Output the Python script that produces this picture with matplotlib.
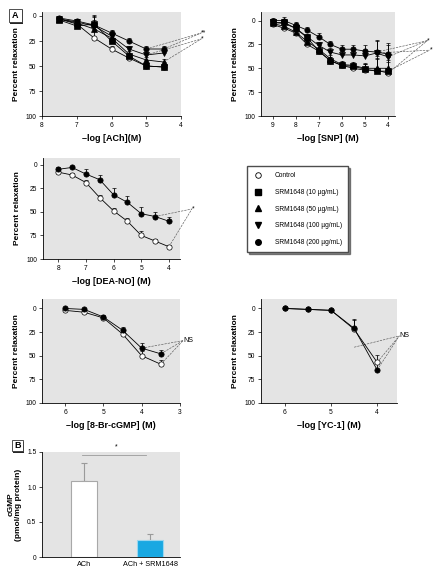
import numpy as np
import matplotlib
matplotlib.use('Agg')
import matplotlib.pyplot as plt
from matplotlib.lines import Line2D
from matplotlib.patches import Rectangle

plt.rcParams['font.family'] = ['Liberation Sans Narrow', 'Liberation Sans', 'DejaVu Sans']
plt.rcParams['font.size'] = 4.5
plt.rcParams['axes.linewidth'] = 0.6

# ---- data: ACh ----
ach_x = [7.5, 7, 6.5, 6, 5.5, 5, 4.5]
ach_ctrl = [3, 8, 22, 33, 42, 50, 51]
ach_10 = [4, 10, 8, 25, 40, 50, 51]
ach_50 = [3, 7, 13, 22, 38, 44, 46]
ach_100 = [3, 6, 10, 20, 33, 39, 37]
ach_200 = [2, 5, 9, 17, 25, 33, 33]
ach_err = [2, 2, 9, 3, 3, 3, 3]

# ---- data: SNP ----
snp_x = [9, 8.5, 8, 7.5, 7, 6.5, 6, 5.5, 5, 4.5, 4]
snp_ctrl = [4, 8, 13, 25, 32, 42, 47, 50, 52, 52, 55]
snp_10 = [2, 2, 8, 18, 32, 42, 47, 48, 51, 53, 53]
snp_50 = [3, 6, 12, 22, 30, 40, 46, 47, 50, 50, 50]
snp_100 = [2, 3, 8, 17, 26, 33, 36, 36, 37, 34, 38]
snp_200 = [0, 0, 5, 10, 17, 25, 30, 30, 32, 33, 35]
snp_err = [3, 4, 3, 3, 4, 4, 4, 4, 6, 13, 12]

# ---- data: DEA-NO ----
dea_x = [8, 7.5, 7, 6.5, 6, 5.5, 5, 4.5, 4]
dea_ctrl = [8, 11, 19, 35, 49, 60, 75, 81, 87]
dea_200 = [5, 3, 10, 16, 32, 40, 52, 55, 60]
dea_ctrl_err = [2, 2, 3, 3, 3, 3, 5, 2, 2]
dea_200_err = [2, 2, 5, 5, 7, 7, 7, 5, 4]

# ---- data: 8-Br-cGMP ----
br_x = [6, 5.5, 5, 4.5, 4, 3.5]
br_ctrl = [2, 4, 10, 27, 50, 59]
br_200 = [0, 1, 9, 23, 42, 48]
br_err = [1, 1, 2, 3, 5, 4]

# ---- data: YC-1 ----
yc_x = [6, 5.5, 5, 4.5, 4]
yc_ctrl = [0, 1, 2, 22, 57]
yc_200 = [0, 1, 2, 21, 65]
yc_err = [1, 1, 1, 10, 8]

# ---- data: cGMP ----
b_labels = ['ACh', 'ACh + SRM1648']
b_vals = [1.09, 0.25]
b_err = [0.26, 0.08]

W, H = 439, 573
fig = plt.figure(figsize=(W / 100, H / 100), dpi=100)
BG = '#e4e4e4'


def px_axes(l, t, r, b):
    return fig.add_axes([l / W, 1 - b / H, (r - l) / W, (b - t) / H])


def style(ax, xlim, xticks, ylim=(100, -6)):
    ax.set_facecolor(BG)
    ax.spines['top'].set_visible(False)
    ax.spines['right'].set_visible(False)
    ax.set_xlim(*xlim)
    ax.set_ylim(*ylim)
    ax.set_xticks(xticks)
    ax.set_xticklabels([str(t) for t in xticks])
    ax.set_yticks([0, 25, 50, 75, 100])
    ax.tick_params(length=2, width=0.5, labelsize=4.8, pad=2)
    ax.set_ylabel('Percent relaxation', fontsize=6, fontweight='bold', labelpad=4)


styles = {
    'ctrl': dict(marker='o', mfc='white', mec='black'),
    '10': dict(marker='s', mfc='black', mec='black'),
    '50': dict(marker='^', mfc='black', mec='black'),
    '100': dict(marker='v', mfc='black', mec='black'),
    '200': dict(marker='o', mfc='black', mec='black'),
}


def series(ax, x, y, err, key, z=3):
    y = np.array(y, dtype=float)
    e = np.array(err, dtype=float)
    ax.errorbar(x, y, yerr=[e, np.zeros_like(e)], color='black', lw=0.6,
                elinewidth=0.6, capsize=1.2, capthick=0.6, ms=3.8, mew=0.5,
                zorder=z, **styles[key])


def note(ax, tx, ty, text, targets):
    ax.text(tx, ty, text, fontsize=5, ha='left', va='center', clip_on=False)
    for px, py in targets:
        ax.plot([px, tx], [py, ty], ls='--', lw=0.45, color='0.35',
                clip_on=False, zorder=2)


# A1: ACh
ax1 = px_axes(42, 12, 181, 116)
style(ax1, (8, 4), [8, 7, 6, 5, 4], ylim=(100, -4))
series(ax1, ach_x, ach_ctrl, ach_err, 'ctrl')
series(ax1, ach_x, ach_10, ach_err, '10')
series(ax1, ach_x, ach_50, ach_err, '50')
series(ax1, ach_x, ach_100, ach_err, '100')
series(ax1, ach_x, ach_200, ach_err, '200')
note(ax1, 3.42, 17, '**', [(ach_x[-2], ach_200[-2]), (ach_x[-1], ach_200[-1])])
note(ax1, 3.42, 23, '*', [(ach_x[-2], ach_100[-2]), (ach_x[-1], ach_50[-1])])
ax1.set_xlabel('\u2013log [ACh](M)', fontsize=6.5, fontweight='bold', labelpad=4)

# A2: SNP
ax2 = px_axes(261, 12, 395, 116)
style(ax2, (9.5, 3.7), [9, 8, 7, 6, 5, 4], ylim=(100, -9))
series(ax2, snp_x, snp_ctrl, snp_err, 'ctrl')
series(ax2, snp_x, snp_10, snp_err, '10')
series(ax2, snp_x, snp_50, snp_err, '50')
series(ax2, snp_x, snp_100, snp_err, '100')
series(ax2, snp_x, snp_200, snp_err, '200')
note(ax2, 2.3, 21, '*', [(snp_x[-2], snp_200[-2]), (snp_x[-1], snp_100[-1]), (snp_x[-1], snp_ctrl[-1])])
note(ax2, 2.2, 31, '*', [(snp_x[-2], snp_100[-2]), (snp_x[-1], snp_10[-1])])
ax2.set_xlabel('\u2013log [SNP] (M)', fontsize=6.5, fontweight='bold', labelpad=4)

# A3: DEA-NO
ax3 = px_axes(43, 158, 180, 259)
style(ax3, (8.55, 3.6), [8, 7, 6, 5, 4], ylim=(100, -7))
series(ax3, dea_x, dea_ctrl, dea_ctrl_err, 'ctrl')
series(ax3, dea_x, dea_200, dea_200_err, '200')
note(ax3, 3.17, 47, '*', [(dea_x[-2], dea_200[-2]), (dea_x[-1], dea_ctrl[-1])])
ax3.set_xlabel('\u2013log [DEA-NO] (M)', fontsize=6.5, fontweight='bold', labelpad=4)

# A4: 8-Br-cGMP
ax4 = px_axes(42, 299, 180, 403)
style(ax4, (6.6, 3), [6, 5, 4, 3], ylim=(100, -10))
series(ax4, br_x, br_ctrl, br_err, 'ctrl')
series(ax4, br_x, br_200, br_err, '200')
note(ax4, 2.92, 34, 'NS', [(br_x[-2], br_200[-2]), (br_x[-1], br_200[-1]), (br_x[-1], br_ctrl[-1])])
ax4.set_xlabel('\u2013log [8-Br-cGMP] (M)', fontsize=6.5, fontweight='bold', labelpad=4)

# A5: YC-1
ax5 = px_axes(261, 299, 397, 403)
style(ax5, (6.52, 3.57), [6, 5, 4], ylim=(100, -10))
series(ax5, yc_x, yc_ctrl, yc_err, 'ctrl')
series(ax5, yc_x, yc_200, yc_err, '200')
note(ax5, 3.52, 29, 'NS', [(yc_x[-2], yc_200[-2] + 20), (yc_x[-1], yc_ctrl[-1]), (yc_x[-1], yc_200[-1])])
ax5.set_xlabel('\u2013log [YC-1] (M)', fontsize=6.5, fontweight='bold', labelpad=4)

# legend box
handles = [
    Line2D([], [], ls='none', ms=4, mew=0.6, **styles['ctrl']),
    Line2D([], [], ls='none', ms=4, **styles['10']),
    Line2D([], [], ls='none', ms=4, **styles['50']),
    Line2D([], [], ls='none', ms=4, **styles['100']),
    Line2D([], [], ls='none', ms=4, **styles['200']),
]
names = ['Control', 'SRM1648 (10 \u00b5g/mL)', 'SRM1648 (50 \u00b5g/mL)',
         'SRM1648 (100 \u00b5g/mL)', 'SRM1648 (200 \u00b5g/mL)']
fig.legend(handles, names, loc='upper left', bbox_to_anchor=(247 / W, 1 - 166 / H),
           fontsize=4.8, frameon=True, fancybox=False, edgecolor='0.3',
           shadow={'color': '0.1', 'ox': 1.2, 'oy': -1.2}, framealpha=1,
           labelspacing=1.45, handletextpad=1.7, borderpad=0.95, handlelength=1.5,
           borderaxespad=0)

# B: cGMP bars
axb = px_axes(42, 452, 180, 557)
axb.set_facecolor(BG)
axb.spines['top'].set_visible(False)
axb.spines['right'].set_visible(False)
axb.bar([0, 1], b_vals, width=0.4, color=['white', '#19a8e2'],
        edgecolor=['#a8a8a8', '#9ad6ef'], linewidth=0.8, zorder=2)
axb.errorbar([0, 1], b_vals, yerr=[[0, 0], b_err], fmt='none', ecolor='#9a9a9a',
             elinewidth=0.8, capsize=2, capthick=0.8, zorder=1)
axb.set_xlim(-0.64, 1.45)
axb.set_ylim(0, 1.5)
axb.set_yticks([0, 0.5, 1.0, 1.5])
axb.set_yticklabels(['0', '0.5', '1.0', '1.5'])
axb.set_xticks([0, 1])
axb.set_xticklabels(b_labels)
axb.tick_params(axis='y', length=2, width=0.5, labelsize=4.8, pad=2)
axb.tick_params(axis='x', length=0, labelsize=5.2, pad=3)
axb.plot([-0.03, 0.93], [1.46, 1.46], color='#9a9a9a', lw=0.6, clip_on=False)
axb.text(0.48, 1.52, '*', fontsize=5, ha='center', va='bottom', clip_on=False)
axb.set_ylabel('cGMP\n(pmol/mg protein)', fontsize=6, fontweight='bold', labelpad=4,
               linespacing=1.0)

# panel letters
for (l, t, r, b, s) in [(9, 9, 22, 22, 'A'), (12, 440, 23, 451, 'B')]:
    fig.patches.append(Rectangle((l / W + 1.5 / W, 1 - b / H - 1.5 / H), (r - l) / W,
                                 (b - t) / H, transform=fig.transFigure,
                                 fc='0.15', ec='none', zorder=1))
    fig.patches.append(Rectangle((l / W, 1 - b / H), (r - l) / W, (b - t) / H,
                                 transform=fig.transFigure, fc='white', ec='0.2',
                                 lw=0.6, zorder=2))
    fig.text((l + r) / 2 / W, 1 - (t + b) / 2 / H, s, fontsize=6.5, fontweight='bold',
             ha='center', va='center', zorder=3)

fig.savefig('out.png', dpi=100)
